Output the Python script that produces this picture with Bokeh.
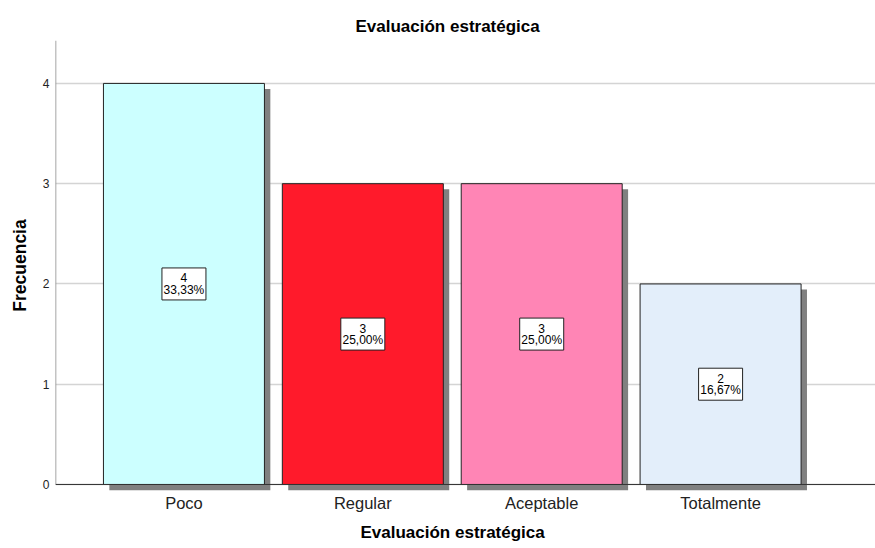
from bokeh.plotting import figure
from bokeh.models import ColumnDataSource, FixedTicker, Span, Title, Range1d
from bokeh.core.properties import value
from bokeh.embed import file_html
from bokeh.resources import INLINE

# ---- data ----
categories = ["Poco", "Regular", "Aceptable", "Totalmente"]
counts = [4, 3, 3, 2]
pct_labels = ["33,33%", "25,00%", "25,00%", "16,67%"]
bar_colors = ["#CCFFFF", "#FF1A2B", "#FF85B5", "#E3EEFA"]
y_ticks = [0, 1, 2, 3, 4]
title_text = "Evaluación estratégica"
x_label = "Evaluación estratégica"
y_label = "Frecuencia"

# ---- layout constants ----
FONT = "Liberation Sans"
bar_w = 0.9
shadow_dx = 0.033
shadow_dy = 0.055
x_start, x_end = -0.718, 3.866
y_start, y_end = -0.06, 4.428

x = list(range(len(categories)))
src = ColumnDataSource(dict(
    x=x,
    top=counts,
    color=bar_colors,
    sx=[v + shadow_dx for v in x],
    stop=[c - shadow_dy for c in counts],
    ymid=[c / 2 for c in counts],
    cnt=[str(c) for c in counts],
    pct=pct_labels,
))

p = figure(width=875, height=548,
           x_range=Range1d(x_start, x_end), y_range=Range1d(y_start, y_end),
           output_backend="svg", toolbar_location=None,
           min_border_left=55, min_border_right=0, min_border_top=40, min_border_bottom=57)
p.outline_line_color = None
p.background_fill_color = "white"
p.border_fill_color = "white"

# title
p.title.text = title_text
p.title.align = "left"
p.title.offset = 300
p.title.text_font = FONT
p.title.text_font_size = "17px"
p.title.text_font_style = "bold"
p.title.text_color = "black"

# shadows
p.vbar(x="sx", top="stop", bottom=y_start, width=bar_w, source=src,
       fill_color="#808080", line_color=None)
# bars
p.vbar(x="x", top="top", bottom=0, width=bar_w, source=src,
       fill_color="color", line_color="#222222", line_width=1)

# axes
p.xaxis.ticker = FixedTicker(ticks=x)
p.xaxis.major_label_overrides = {i: c for i, c in enumerate(categories)}
p.xaxis.major_tick_line_color = None
p.xaxis.major_tick_out = 0
p.xaxis.major_tick_in = 0
p.xaxis.minor_tick_line_color = None
p.xaxis.axis_line_color = None
p.xaxis.major_label_text_font = FONT
p.xaxis.major_label_text_font_size = "16.5px"
p.xaxis.major_label_text_color = "#222222"
p.xaxis.major_label_standoff = 3

p.yaxis.ticker = FixedTicker(ticks=y_ticks)
p.yaxis.major_tick_line_color = None
p.yaxis.major_tick_out = 0
p.yaxis.major_tick_in = 0
p.yaxis.minor_tick_line_color = None
p.yaxis.axis_line_color = None
p.yaxis.major_label_text_font = FONT
p.yaxis.major_label_text_font_size = "12px"
p.yaxis.major_label_text_color = "#222222"
p.yaxis.major_label_standoff = 6
p.yaxis.axis_label = y_label
p.yaxis.axis_label_text_font = FONT
p.yaxis.axis_label_text_font_size = "17.5px"
p.yaxis.axis_label_text_font_style = "bold"
p.yaxis.axis_label_text_color = "black"
p.yaxis.axis_label_standoff = 10

p.xgrid.grid_line_color = None
p.ygrid.grid_line_color = "#d4d4d4"
p.ygrid.grid_line_width = 1.5

# axis lines drawn manually (y axis from 0 up, x axis at 0)
p.segment(x0=[x_start], y0=[0], x1=[x_start], y1=[y_end], line_color="#888888", line_width=1.5)
p.add_layout(Span(location=0, dimension="width", line_color="#333333", line_width=1))

# value label boxes
p.rect(x="x", y="ymid", width=44, height=32, width_units="screen", height_units="screen",
       source=src, fill_color="white", line_color="#222222", line_width=1)
p.text(x="x", y="ymid", text="cnt", source=src, y_offset=-6,
       text_align="center", text_baseline="middle",
       text_font=value(FONT), text_font_size="12px", text_color="black")
p.text(x="x", y="ymid", text="pct", source=src, y_offset=6,
       text_align="center", text_baseline="middle",
       text_font=value(FONT), text_font_size="12px", text_color="black")

# x axis title as a bottom title
xt = Title(text=x_label, align="left", offset=305, text_font=FONT,
           text_font_size="17px", text_font_style="bold", text_color="black",
           standoff=13)
p.add_layout(xt, "below")

open("out.html", "w").write(file_html(p, INLINE))
